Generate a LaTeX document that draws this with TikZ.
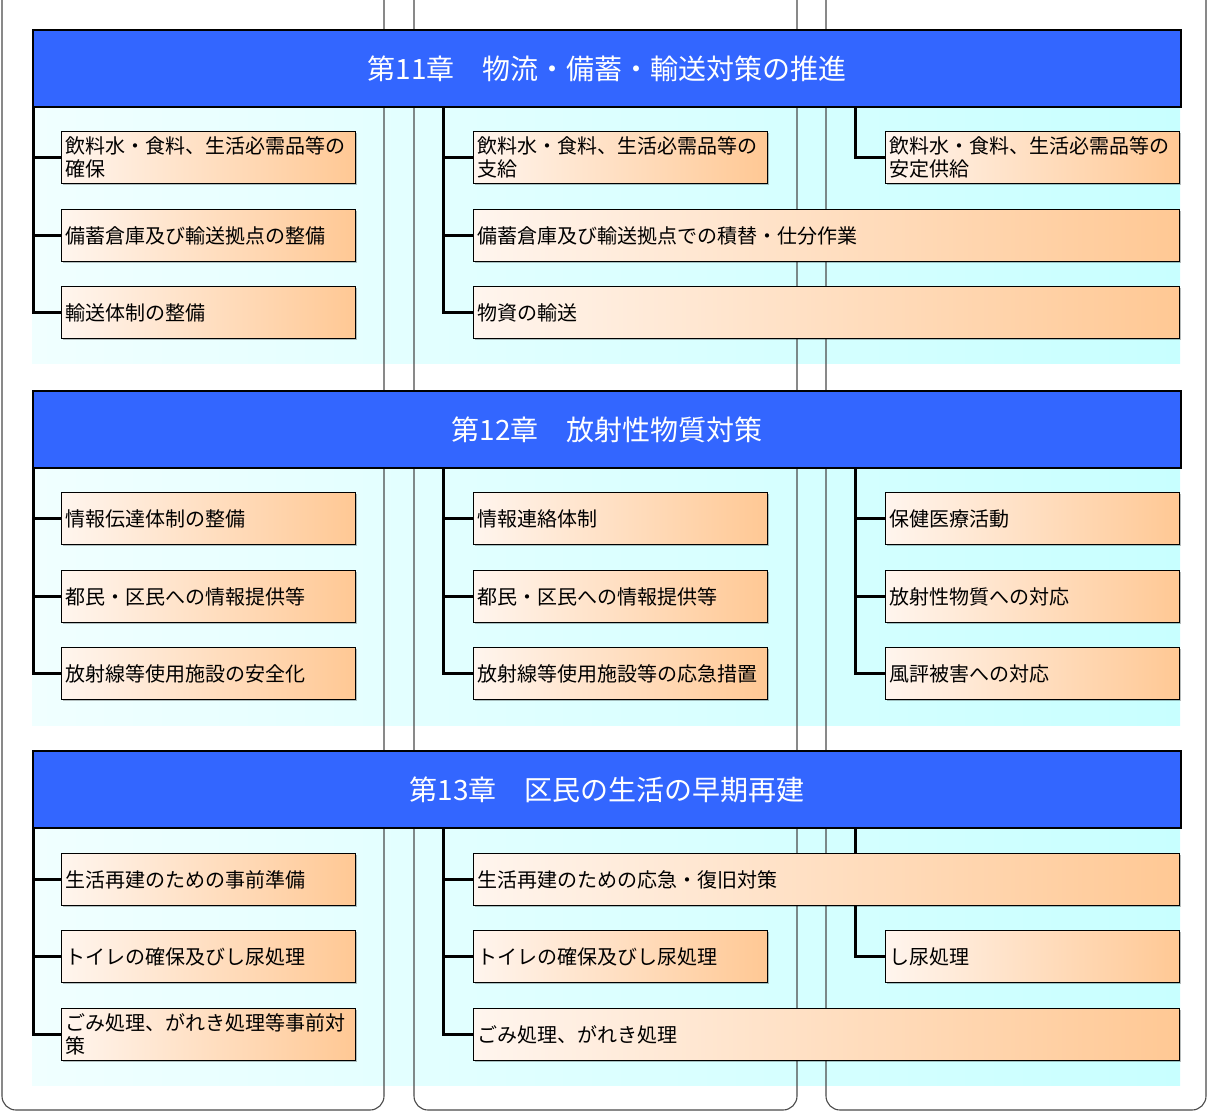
\documentclass[tikz,border=0pt]{standalone}
\usepackage{fontspec}
\setmainfont{Noto Sans CJK JP}
\usetikzlibrary{shadows}
\definecolor{hdrblue}{HTML}{3366FF}
\definecolor{boxL}{HTML}{FFF5EE}
\definecolor{boxR}{HTML}{FFC894}
\definecolor{panL}{HTML}{F0FFFF}
\definecolor{panR}{HTML}{C8FFFF}
\definecolor{colline}{HTML}{4A4A4A}
\pgfdeclarelayer{bg}
\pgfdeclarelayer{conn}
\pgfsetlayers{bg,conn,main}
\tikzset{
  hdr/.style={draw=black, line width=2pt, fill=hdrblue, text=white, anchor=north west,
    minimum width=1148, minimum height=77, inner sep=0, font=\fontsize{28}{30}\selectfont},
  itembox/.style={draw=black, line width=1pt, left color=boxL, right color=boxR, anchor=north west,
    minimum height=52, inner xsep=4, inner ysep=0, align=left,
    font=\fontsize{20}{23}\selectfont,
    drop shadow={shadow xshift=1.2pt, shadow yshift=-1.2pt, fill=black, opacity=0.25}},
  narrow/.style={itembox, text width=286},
  wide/.style={itembox, text width=698},
  bar/.style={draw=black, line width=3pt},
  frame/.style={draw=colline, line width=1.1pt, rounded corners=14},
  panel/.style={left color=panL, right color=panR}
}
\begin{document}
\begin{tikzpicture}[x=1pt,y=-1pt]
\useasboundingbox (0,0) rectangle (1207,1113);

% headers
\node[hdr] (h11) at (32,29) {第11章　物流・備蓄・輸送対策の推進};
\node[hdr] (h12) at (32,390) {第12章　放射性物質対策};
\node[hdr] (h13) at (32,750) {第13章　区民の生活の早期再建};

% chapter 11 boxes
\node[narrow] (a11) at (61,131) {飲料水・食料、生活必需品等の\\確保};
\node[narrow] (a12) at (61,209) {備蓄倉庫及び輸送拠点の整備};
\node[narrow] (a13) at (61,286) {輸送体制の整備};
\node[narrow] (b11) at (473,131) {飲料水・食料、生活必需品等の\\支給};
\node[wide]   (b12) at (473,209) {備蓄倉庫及び輸送拠点での積替・仕分作業};
\node[wide]   (b13) at (473,286) {物資の輸送};
\node[narrow] (c11) at (885,131) {飲料水・食料、生活必需品等の\\安定供給};

% chapter 12 boxes
\node[narrow] (a21) at (61,492) {情報伝達体制の整備};
\node[narrow] (a22) at (61,570) {都民・区民への情報提供等};
\node[narrow] (a23) at (61,647) {放射線等使用施設の安全化};
\node[narrow] (b21) at (473,492) {情報連絡体制};
\node[narrow] (b22) at (473,570) {都民・区民への情報提供等};
\node[narrow] (b23) at (473,647) {放射線等使用施設等の応急措置};
\node[narrow] (c21) at (885,492) {保健医療活動};
\node[narrow] (c22) at (885,570) {放射性物質への対応};
\node[narrow] (c23) at (885,647) {風評被害への対応};

% chapter 13 boxes
\node[narrow] (a31) at (61,853) {生活再建のための事前準備};
\node[narrow] (a32) at (61,930) {トイレの確保及びし尿処理};
\node[narrow] (a33) at (61,1008) {ごみ処理、がれき処理等事前対\\策};
\node[wide]   (b31) at (473,853) {生活再建のための応急・復旧対策};
\node[narrow] (b32) at (473,930) {トイレの確保及びし尿処理};
\node[wide]   (b33) at (473,1008) {ごみ処理、がれき処理};
\node[narrow] (c32) at (885,930) {し尿処理};

% bar roots
\coordinate (ra1) at (33,106);  \coordinate (rb1) at (443,106);  \coordinate (rc1) at (855,106);
\coordinate (ra2) at (33,467);  \coordinate (rb2) at (443,467);  \coordinate (rc2) at (855,467);
\coordinate (ra3) at (33,828);  \coordinate (rb3) at (443,828);  \coordinate (rc3) at (855,828);

\begin{pgfonlayer}{bg}
  \fill[panel] (32,106) rectangle (1180,363);
  \fill[panel] (32,467) rectangle (1180,725);
  \fill[panel] (32,828) rectangle (1180,1085);
  \draw[frame] (2,0) -- (2,1110) -- (384,1110) -- (384,0);
  \draw[frame] (414,0) -- (414,1110) -- (797,1110) -- (797,0);
  \draw[frame] (826,0) -- (826,1110) -- (1206,1110) -- (1206,0);
\end{pgfonlayer}

\begin{pgfonlayer}{conn}
  \draw[bar] (ra1) |- (a13.west) (ra1) |- (a12.west) (ra1) |- (a11.west);
  \draw[bar] (rb1) |- (b13.west) (rb1) |- (b12.west) (rb1) |- (b11.west);
  \draw[bar] (rc1) |- (c11.west);
  \draw[bar] (ra2) |- (a23.west) (ra2) |- (a22.west) (ra2) |- (a21.west);
  \draw[bar] (rb2) |- (b23.west) (rb2) |- (b22.west) (rb2) |- (b21.west);
  \draw[bar] (rc2) |- (c23.west) (rc2) |- (c22.west) (rc2) |- (c21.west);
  \draw[bar] (ra3) |- (a33.west) (ra3) |- (a32.west) (ra3) |- (a31.west);
  \draw[bar] (rb3) |- (b33.west) (rb3) |- (b32.west) (rb3) |- (b31.west);
  \draw[bar] (rc3) |- (c32.west);
\end{pgfonlayer}
\end{tikzpicture}
\end{document}
